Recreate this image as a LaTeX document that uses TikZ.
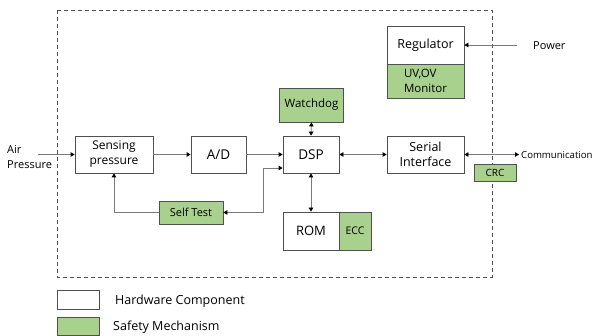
\documentclass[tikz,border=0pt]{standalone}
\usepackage{fontspec}
\setmainfont{Open Sans}
\usetikzlibrary{arrows.meta}
\definecolor{smgreen}{HTML}{A9D18E}
\definecolor{boxline}{HTML}{505050}
\definecolor{connline}{HTML}{7A7A7A}
\begin{document}
\begin{tikzpicture}[x=1pt,y=-1pt,
  >={Triangle[length=4pt,width=4.5pt,color=black]},
  hw/.style={draw=boxline, fill=white, line width=0.8pt, inner sep=0pt, align=center, font=\fontsize{12}{15}\selectfont},
  sm/.style={hw, fill=smgreen},
  conn/.style={draw=connline, line width=0.8pt},
  lbl/.style={inner sep=0pt, anchor=west, align=left},
  ]
\useasboundingbox (0,0) rectangle (597,336);
% border
\draw[boxline, line width=0.8pt, dash pattern=on 4pt off 3pt] (57,10) rectangle (492,277);
% nodes
\node[hw, minimum width=78pt, minimum height=37pt, font=\fontsize{12}{15}\selectfont] (sens) at (114,154.5) {Sensing\\pressure};
\node[hw, minimum width=55pt, minimum height=37pt, font=\fontsize{13.5}{15}\selectfont] (ad) at (218.5,154.5) {A/D};
\node[hw, minimum width=56pt, minimum height=37pt, font=\fontsize{13.5}{15}\selectfont] (dsp) at (311,154.5) {DSP};
\node[sm, minimum width=64pt, minimum height=34pt, font=\fontsize{11.5}{14}\selectfont] (wd) at (311.5,105) {Watchdog};
\node[hw, minimum width=77pt, minimum height=38pt, font=\fontsize{12.5}{15}\selectfont] (reg) at (425.5,45) {Regulator};
\node[sm, minimum width=77pt, minimum height=34pt, align=left, font=\fontsize{11.5}{15}\selectfont] (mon) at (425.5,81) {UV,OV\\Monitor};
\node[hw, minimum width=77pt, minimum height=37pt, font=\fontsize{12.5}{15.5}\selectfont] (ser) at (425.5,154.5) {Serial\\Interface};
\node[sm, minimum width=42pt, minimum height=17pt, font=\fontsize{10}{12}\selectfont] (crc) at (495,172.5) {CRC};
\node[hw, minimum width=56pt, minimum height=38pt, font=\fontsize{13}{15}\selectfont] (rom) at (311,231) {ROM};
\node[sm, minimum width=32pt, minimum height=38pt, font=\fontsize{10.5}{12}\selectfont] (ecc) at (355,231) {ECC};
\node[sm, minimum width=64pt, minimum height=23pt, font=\fontsize{11}{13}\selectfont] (st) at (191,212.5) {Self Test};
% legend
\node[hw, minimum width=42pt, minimum height=19pt] (lhw) at (78,299.5) {};
\node[sm, minimum width=42pt, minimum height=18pt] (lsm) at (78,326) {};
\node[lbl, font=\fontsize{12.5}{14}\selectfont] (thw) at (115,301) {Hardware Component};
\node[lbl, font=\fontsize{12.5}{14}\selectfont] (tsm) at (113,327) {Safety Mechanism};
% outside labels
\node[lbl, font=\fontsize{11}{15}\selectfont] (air) at (7,157.5) {Air\\Pressure};
\node[lbl, font=\fontsize{11}{13}\selectfont] (pow) at (533,46) {Power};
\node[lbl, font=\fontsize{9.6}{12}\selectfont] (com) at (521,155) {Communication};
% free ends
\coordinate (airend) at (38,154.5);
\coordinate (powend) at (517,45);
\coordinate (comend) at (519,154.5);
\coordinate (bend) at (263,168);
% connectors
\draw[conn, ->] (airend) -- (sens.west);
\draw[conn, ->] (sens.east) -- (ad.west);
\draw[conn, ->] (ad.east) -- (dsp.west);
\draw[conn, <->] (dsp.east) -- (ser.west);
\draw[conn, <->] (ser.east) -- (comend);
\draw[conn, ->] (powend) -- (reg.east);
\draw[conn, <->] (wd.south) -- (dsp.north);
\draw[conn, <->] (dsp.south) -- (rom.north);
\draw[conn, ->] (st.west) -| (sens.south);
\draw[conn, <->] (st.east) -| (bend) -- (dsp.west |- bend);
\end{tikzpicture}
\end{document}
